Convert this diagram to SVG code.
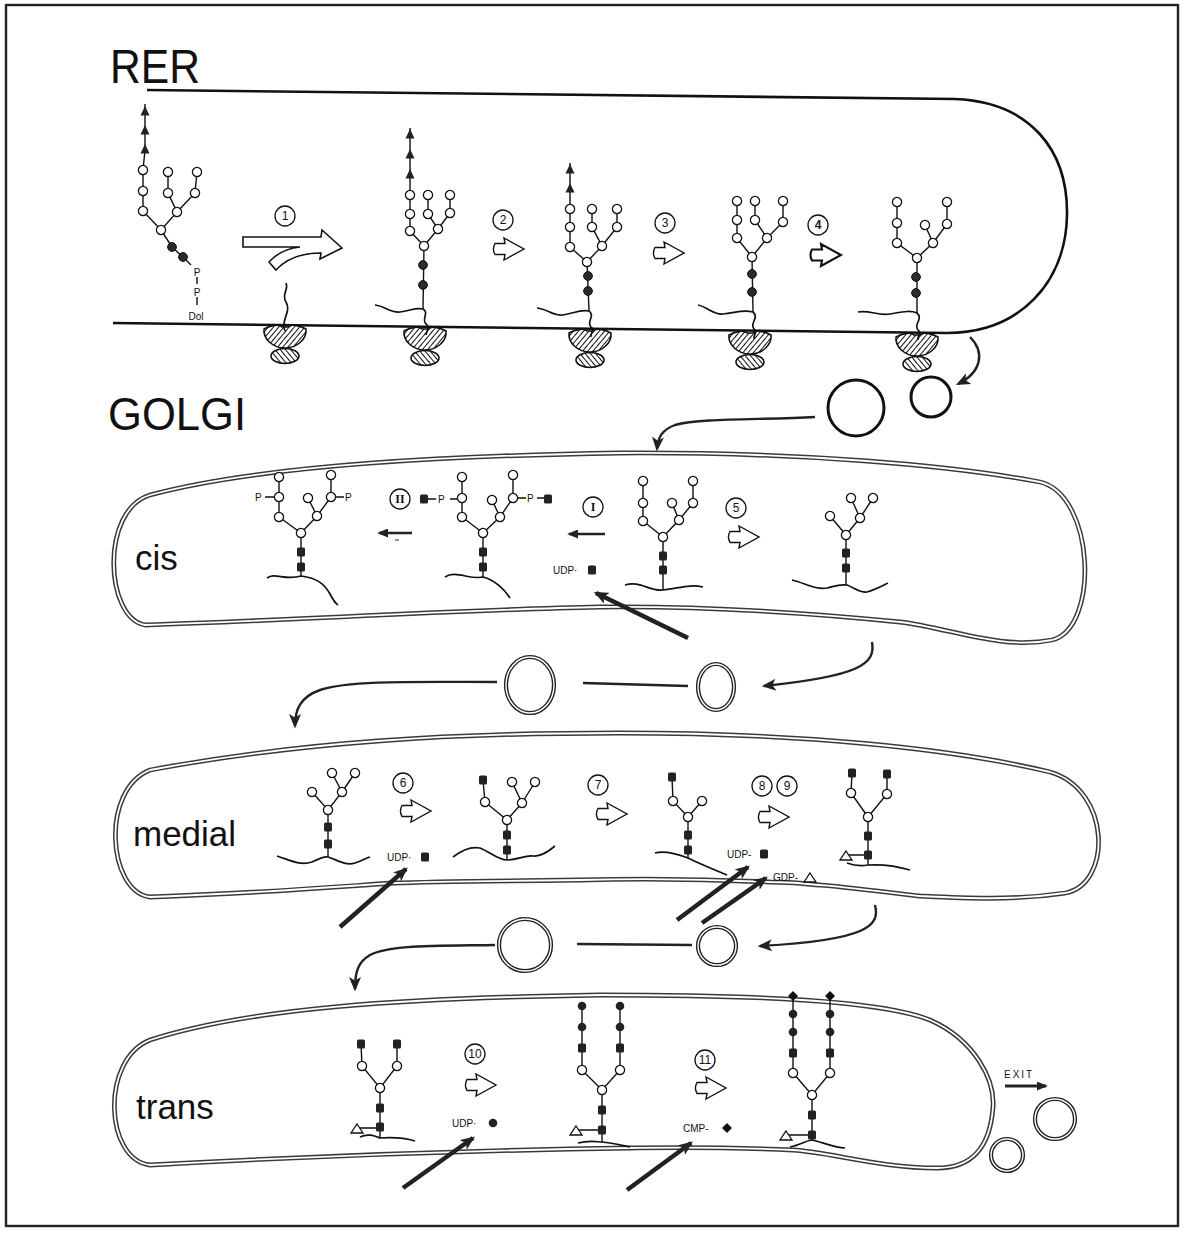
<svg xmlns="http://www.w3.org/2000/svg" xmlns:xlink="http://www.w3.org/1999/xlink" width="1185" height="1242" viewBox="0 0 1185 1242">
<style>
  .ln{stroke:#111;stroke-width:1.4;fill:none}
  .pep{stroke:#111;stroke-width:1.7;fill:none}
  .mem{stroke:#3a3a3a;stroke-width:4.8;fill:none}
  .memi{stroke:#fff;stroke-width:1.8;fill:none}
  .er{stroke:#111;stroke-width:2.6;fill:none}
  .tr{stroke:#222;stroke-width:2.4;fill:none}
  .imp{stroke:#222;stroke-width:4.5;fill:none}
  .stc{fill:#fff;stroke:#111;stroke-width:1.3}
  .num{font-family:"Liberation Sans",Arial,sans-serif;font-size:12px;text-anchor:middle;fill:#111}
  .rom{font-family:"Liberation Serif","Times New Roman",serif;font-size:12px;font-weight:bold;text-anchor:middle;fill:#111}
  .sm{font-family:"Liberation Sans",Arial,sans-serif;font-size:10px;fill:#111}
  .big{font-family:"Liberation Sans",Arial,sans-serif;fill:#111}
  .lab{font-family:"Liberation Sans",Arial,sans-serif;font-size:35px;fill:#111}
  .ves{fill:none;stroke:#222;stroke-width:4.2}
  .vesi{fill:none;stroke:#fff;stroke-width:1.4}
</style>
<defs>
  <pattern id="hatchA" patternUnits="userSpaceOnUse" width="4" height="4" patternTransform="rotate(40)">
    <rect width="4" height="4" fill="#fff"/>
    <line x1="0" y1="0" x2="0" y2="4" stroke="#111" stroke-width="2"/>
  </pattern>
  <pattern id="hatchB" patternUnits="userSpaceOnUse" width="4" height="4" patternTransform="rotate(-40)">
    <rect width="4" height="4" fill="#fff"/>
    <line x1="0" y1="0" x2="0" y2="4" stroke="#111" stroke-width="2"/>
  </pattern>
  <!-- sugar residues -->
  <circle id="o" r="4.6" fill="#fff" stroke="#111" stroke-width="1.3"/>
  <circle id="f" r="4.4" fill="#2a2a2a" stroke="#111" stroke-width="1"/>
  <rect id="s" x="-4" y="-4.5" width="8" height="9" rx="1.6" fill="#222"/>
  <circle id="g" r="4.3" fill="#222"/>
  <path id="t" d="M0,-6 L4.5,3.5 L-4.5,3.5 Z" fill="#222"/>
  <path id="fu" d="M0,-5 L6,4 L-6,4 Z" fill="#fff" stroke="#111" stroke-width="1.3"/>
  <path id="d" d="M0,-5 L5,0 L0,5 L-5,0 Z" fill="#111"/>
  <!-- hollow reaction arrows -->
  <path id="ha" d="M0,-5.5 L10,-5.5 L9,-11 L29,0 L9,11 L10,5.5 L0,5.5 C-2,2 -2,-2 0,-5.5 Z" fill="#fff" stroke="#111" stroke-width="1.4"/>
  <path id="hab" d="M0,-5.5 L10,-5.5 L9,-11 L29,0 L9,11 L10,5.5 L0,5.5 C-2,2 -2,-2 0,-5.5 Z" fill="#fff" stroke="#111" stroke-width="2.1"/>
  <!-- ribosome: small subunit below, large subunit against the membrane -->
  <g id="rib">
    <ellipse cx="0" cy="31" rx="14" ry="7.5" fill="url(#hatchB)" stroke="#111" stroke-width="1.6"/>
    <path d="M-21,4 C-22,14 -12,23 0,23 C12,23 22,14 21,4 C14,0 6,-1 3,2 L-3,2 C-6,-1 -14,0 -21,4 Z" fill="url(#hatchA)" stroke="#111" stroke-width="1.6"/>
  </g>
  <marker id="ah" viewBox="0 0 12 10" markerUnits="userSpaceOnUse" markerWidth="15" markerHeight="12" refX="10" refY="5" orient="auto">
    <path d="M0,0 L12,5 L0,10 L3,5 Z" fill="#222"/>
  </marker>
  <marker id="ahs" viewBox="0 0 12 10" markerUnits="userSpaceOnUse" markerWidth="12" markerHeight="9" refX="10" refY="5" orient="auto">
    <path d="M0,0 L12,5 L0,10 Z" fill="#222"/>
  </marker>
</defs>

<rect width="1185" height="1242" fill="#fff"/>
<!-- frame -->
<rect x="6" y="5" width="1172" height="1221" fill="none" stroke="#222" stroke-width="2.4"/>

<!-- ===== RER ===== -->
<g id="rer">
  <text class="big" x="110" y="83" font-size="48" textLength="90" lengthAdjust="spacingAndGlyphs">RER</text>
  <path class="er" d="M147,90 L955,99 C1030,102 1068,150 1067,215 C1066,282 1020,333 947,333 L113,323"/>
  <use href="#rib" x="285" y="325"/>
  <use href="#rib" x="425" y="327"/>
  <use href="#rib" x="590" y="329"/>
  <use href="#rib" x="750" y="331"/>
  <use href="#rib" x="917" y="333"/>
  <path class="pep" d="M285,331 C280,320 292,312 286,302 C281,294 289,290 286,283"/>
</g>

<!-- lipid-linked oligosaccharide -->
<g id="llo">
  <path class="ln" d="M145,104 L145,150 L143,170 L143,211 L161,230 M168,172 L168,193 L177,212 L161,230 M197,172 L195,193 L177,212 M161,230 L172,247 L183,257 L191,265 M197,277 L197,284 M197,297 L197,305"/>
  <use href="#t" x="145" y="112"/><use href="#t" x="145" y="131"/><use href="#t" x="145" y="150"/>
  <use href="#o" x="143" y="170"/><use href="#o" x="143" y="191"/><use href="#o" x="143" y="211"/>
  <use href="#o" x="168" y="172"/><use href="#o" x="168" y="193"/><use href="#o" x="177" y="212"/>
  <use href="#o" x="197" y="172"/><use href="#o" x="195" y="193"/>
  <use href="#o" x="161" y="230"/>
  <use href="#f" x="172" y="247"/><use href="#f" x="183" y="257"/>
  <text class="sm" x="197" y="276" text-anchor="middle">P</text>
  <text class="sm" x="197" y="296" text-anchor="middle">P</text>
  <text class="sm" x="196" y="320" text-anchor="middle">Dol</text>
</g>

<!-- step 1: oligosaccharide transfer -->
<g id="step1">
  <circle class="stc" cx="285" cy="216" r="10"/>
  <text class="num" x="285" y="220">1</text>
  <path d="M243,237 L321,237 L322,230 L342,248 L320,259 L321,253 C300,253 286,259 276,270 L269,262 C278,252 290,248 300,247 L243,247 Z" fill="#fff" stroke="#111" stroke-width="1.6"/>
</g>

<g id="rer-a">
  <path class="pep" d="M375,305 C385,306 390,313 400,312 C410,311 415,307 423,309 C430,313 420,320 427,325 C430,328 426,332 426,335"/>
  <path class="ln" d="M410,128 L410,231 L424,246 M428,195 L428,214 L438,229 L424,246 M450,195 L450,213 L438,229 M424,246 L423,309"/>
  <use href="#t" x="410" y="135"/><use href="#t" x="410" y="155"/><use href="#t" x="410" y="175"/>
  <use href="#o" x="410" y="195"/><use href="#o" x="410" y="214"/><use href="#o" x="410" y="231"/>
  <use href="#o" x="428" y="195"/><use href="#o" x="428" y="214"/><use href="#o" x="438" y="229"/>
  <use href="#o" x="450" y="195"/><use href="#o" x="450" y="213"/>
  <use href="#o" x="424" y="246"/>
  <use href="#f" x="423" y="265"/><use href="#f" x="423" y="285"/>
</g>

<g id="step2">
  <circle class="stc" cx="503" cy="220" r="10"/>
  <text class="num" x="503" y="224">2</text>
  <use href="#ha" x="495" y="249"/>
</g>

<g id="rer-b">
  <path class="pep" d="M537,308 C548,309 552,316 562,315 C572,314 580,309 589,311 C596,316 585,322 592,328 C594,331 590,334 591,337"/>
  <path class="ln" d="M570,163 L570,247 L587,262 M592,209 L592,227 L602,246 L587,262 M617,209 L617,227 L602,246 M587,262 L589,311"/>
  <use href="#t" x="570" y="170"/><use href="#t" x="570" y="189"/>
  <use href="#o" x="570" y="209"/><use href="#o" x="570" y="227"/><use href="#o" x="570" y="247"/>
  <use href="#o" x="592" y="209"/><use href="#o" x="592" y="227"/><use href="#o" x="602" y="246"/>
  <use href="#o" x="617" y="209"/><use href="#o" x="617" y="227"/>
  <use href="#o" x="587" y="262"/>
  <use href="#f" x="588" y="276"/><use href="#f" x="588" y="291"/>
</g>

<g id="step3">
  <circle class="stc" cx="665" cy="223" r="10"/>
  <text class="num" x="665" y="227">3</text>
  <use href="#ha" x="655" y="253"/>
</g>

<g id="rer-c">
  <path class="pep" d="M698,305 C708,307 713,315 723,314 C735,313 743,309 753,312 C760,318 748,324 755,330 C757,333 753,336 754,339"/>
  <path class="ln" d="M737,201 L737,238 L752,257 M755,201 L755,220 L767,238 L752,257 M783,201 L783,222 L767,238 M752,257 L753,312"/>
  <use href="#o" x="737" y="201"/><use href="#o" x="737" y="220"/><use href="#o" x="737" y="238"/>
  <use href="#o" x="755" y="201"/><use href="#o" x="755" y="220"/><use href="#o" x="767" y="238"/>
  <use href="#o" x="783" y="201"/><use href="#o" x="783" y="222"/>
  <use href="#o" x="752" y="257"/>
  <use href="#f" x="752" y="274"/><use href="#f" x="752" y="292"/>
</g>

<g id="step4">
  <circle class="stc" cx="818" cy="225" r="10" stroke-width="2"/>
  <text class="num" x="818" y="229" font-weight="bold">4</text>
  <use href="#hab" x="812" y="255"/>
</g>

<g id="rer-d">
  <path class="pep" d="M858,312 C870,310 878,316 890,314 C902,312 910,310 917,313 C924,319 912,325 919,331 C921,334 917,337 918,340"/>
  <path class="ln" d="M897,202 L897,243 L917,258 M925,225 L933,243 L917,258 M947,202 L947,224 L933,243 M917,258 L917,313"/>
  <use href="#o" x="897" y="202"/><use href="#o" x="897" y="223"/><use href="#o" x="897" y="243"/>
  <use href="#o" x="925" y="225"/><use href="#o" x="933" y="243"/>
  <use href="#o" x="947" y="202"/><use href="#o" x="947" y="224"/>
  <use href="#o" x="917" y="258"/>
  <use href="#f" x="916" y="277"/><use href="#f" x="916" y="293"/>
</g>

<!-- ===== GOLGI ===== -->
<g id="golgi-title">
  <text class="big" x="108" y="430" font-size="46" textLength="138" lengthAdjust="spacingAndGlyphs">GOLGI</text>
</g>

<g id="cis">
  <path class="mem" d="M145,625 C105,618 100,510 150,495 C250,468 420,456 620,453 C800,452 950,465 1040,482 C1095,495 1100,628 1052,640 C1000,650 950,628 900,622 C800,612 700,606 600,607 C450,610 300,620 145,625 Z"/>
  <path class="memi" d="M145,625 C105,618 100,510 150,495 C250,468 420,456 620,453 C800,452 950,465 1040,482 C1095,495 1100,628 1052,640 C1000,650 950,628 900,622 C800,612 700,606 600,607 C450,610 300,620 145,625 Z"/>
  <text class="lab" x="135" y="570">cis</text>
</g>

<g id="medial">
  <path class="mem" d="M150,897 C108,892 100,790 150,770 C300,742 450,733 620,733 C800,733 950,748 1050,772 C1112,790 1112,885 1065,893 C1010,901 960,898 920,896 C850,888 800,882 770,882 C680,878 620,879 580,880 C480,881 420,882 393,883 C320,888 260,893 150,897 Z"/>
  <path class="memi" d="M150,897 C108,892 100,790 150,770 C300,742 450,733 620,733 C800,733 950,748 1050,772 C1112,790 1112,885 1065,893 C1010,901 960,898 920,896 C850,888 800,882 770,882 C680,878 620,879 580,880 C480,881 420,882 393,883 C320,888 260,893 150,897 Z"/>
  <text class="lab" x="133" y="846">medial</text>
</g>

<g id="trans">
  <path class="mem" d="M150,1165 C105,1160 100,1060 150,1040 C250,1008 400,998 600,995 C750,995 880,1000 930,1020 C975,1040 995,1080 993,1107 C990,1150 970,1168 937,1168 C880,1168 830,1152 793,1150 C700,1146 640,1148 630,1148 C500,1150 330,1155 150,1165 Z"/>
  <path class="memi" d="M150,1165 C105,1160 100,1060 150,1040 C250,1008 400,998 600,995 C750,995 880,1000 930,1020 C975,1040 995,1080 993,1107 C990,1150 970,1168 937,1168 C880,1168 830,1152 793,1150 C700,1146 640,1148 630,1148 C500,1150 330,1155 150,1165 Z"/>
  <text class="lab" x="136" y="1119">trans</text>
</g>

<!-- cis glycans -->
<g id="cis-1">
  <path class="pep" d="M267,578 C275,572 285,581 301,576 C318,578 325,585 330,594 C333,600 335,603 338,605"/>
  <path class="ln" d="M265,497 L274,497 M279,477 L279,517 L301,533 M331,475 L331,497 L317,516 L301,533 M308,498 L317,516 M336,497 L344,497 M301,533 L301,577"/>
  <text class="sm" x="255" y="501">P</text>
  <text class="sm" x="345" y="501">P</text>
  <use href="#o" x="279" y="477"/><use href="#o" x="279" y="497"/><use href="#o" x="279" y="517"/>
  <use href="#o" x="331" y="475"/><use href="#o" x="331" y="497"/><use href="#o" x="308" y="498"/><use href="#o" x="317" y="516"/>
  <use href="#o" x="301" y="533"/>
  <use href="#s" x="301" y="552"/><use href="#s" x="301" y="567"/>
</g>

<g id="step-II">
  <circle class="stc" cx="400" cy="499" r="10"/>
  <text class="rom" x="400" y="503">II</text>
  <line x1="412" y1="533" x2="379" y2="533" stroke="#222" stroke-width="2.6" marker-end="url(#ahs)"/>
  <line x1="395" y1="540" x2="399" y2="540" stroke="#222" stroke-width="1"/>
</g>

<g id="cis-2">
  <path class="pep" d="M445,577 C455,570 470,580 483,577 C495,580 505,590 510,598"/>
  <path class="ln" d="M428,499 L436,499 M450,499 L457,499 M462,477 L462,517 L483,533 M513,475 L513,498 L500,517 L483,533 M492,500 L500,517 M518,498 L526,498 M537,498 L544,498 M483,533 L483,577"/>
  <use href="#s" x="424" y="499"/>
  <text class="sm" x="438" y="503">P</text>
  <text class="sm" x="527" y="502">P</text>
  <use href="#s" x="548" y="499"/>
  <use href="#o" x="462" y="477"/><use href="#o" x="462" y="498"/><use href="#o" x="462" y="517"/>
  <use href="#o" x="513" y="475"/><use href="#o" x="513" y="498"/><use href="#o" x="492" y="500"/><use href="#o" x="500" y="517"/>
  <use href="#o" x="483" y="533"/>
  <use href="#s" x="483" y="552"/><use href="#s" x="483" y="567"/>
</g>

<g id="step-I">
  <circle class="stc" cx="593" cy="507" r="10"/>
  <text class="rom" x="593" y="511">I</text>
  <line x1="605" y1="534" x2="569" y2="534" stroke="#222" stroke-width="2.6" marker-end="url(#ahs)"/>
  <text class="sm" x="553" y="574">UDP·</text>
  <use href="#s" x="592" y="570"/>
</g>

<g id="cis-3">
  <path class="pep" d="M625,585 C640,580 650,592 663,590 C680,588 690,584 703,587"/>
  <path class="ln" d="M643,481 L643,521 L663,537 M693,481 L693,503 L679,520 L663,537 M672,503 L679,520 M663,537 L663,590"/>
  <use href="#o" x="643" y="481"/><use href="#o" x="643" y="503"/><use href="#o" x="643" y="521"/>
  <use href="#o" x="693" y="481"/><use href="#o" x="693" y="503"/><use href="#o" x="672" y="503"/><use href="#o" x="679" y="520"/>
  <use href="#o" x="663" y="537"/>
  <use href="#s" x="663" y="556"/><use href="#s" x="663" y="570"/>
</g>

<g id="step5">
  <circle class="stc" cx="736" cy="508" r="10"/>
  <text class="num" x="736" y="512">5</text>
  <use href="#ha" x="730" y="537"/>
</g>

<g id="cis-4">
  <path class="pep" d="M792,580 C805,583 815,590 827,588 C835,586 840,584 847,585 C855,588 860,593 867,592 C875,590 882,586 888,583"/>
  <path class="ln" d="M830,516 L846,535 M851,498 L860,518 L873,498 M860,518 L846,535 L846,585"/>
  <use href="#o" x="830" y="516"/>
  <use href="#o" x="851" y="498"/><use href="#o" x="873" y="498"/><use href="#o" x="860" y="518"/>
  <use href="#o" x="846" y="535"/>
  <use href="#s" x="846" y="553"/><use href="#s" x="846" y="568"/>
</g>

<!-- medial glycans -->
<g id="medial-1">
  <path class="pep" d="M277,856 C290,860 300,866 312,862 C320,858 325,856 328,857 C338,860 345,866 355,863 C362,861 366,858 370,857"/>
  <path class="ln" d="M312,792 L328,810 L342,792 L332,773 M342,792 L355,773 M328,810 L328,857"/>
  <use href="#o" x="312" y="792"/><use href="#o" x="342" y="792"/><use href="#o" x="332" y="773"/><use href="#o" x="355" y="773"/>
  <use href="#o" x="328" y="810"/>
  <use href="#s" x="328" y="827"/><use href="#s" x="328" y="844"/>
</g>

<g id="step6">
  <circle class="stc" cx="403" cy="783" r="10"/>
  <text class="num" x="403" y="787">6</text>
  <use href="#ha" x="402" y="811"/>
  <text class="sm" x="387" y="861">UDP·</text>
  <use href="#s" x="425" y="857"/>
</g>

<g id="medial-2">
  <path class="pep" d="M453,857 C462,850 470,846 480,848 C490,852 498,860 507,860 C518,860 525,855 533,856 C542,857 550,850 555,846"/>
  <path class="ln" d="M483,780 L485,802 L507,820 L522,803 L512,782 M522,803 L535,782 M507,820 L507,860"/>
  <use href="#s" x="483" y="780"/>
  <use href="#o" x="485" y="802"/><use href="#o" x="522" y="803"/><use href="#o" x="512" y="782"/><use href="#o" x="535" y="782"/>
  <use href="#o" x="507" y="820"/>
  <use href="#s" x="507" y="835"/><use href="#s" x="507" y="850"/>
</g>

<g id="step7">
  <circle class="stc" cx="598" cy="785" r="10"/>
  <text class="num" x="598" y="789">7</text>
  <use href="#ha" x="598" y="814"/>
</g>

<g id="medial-3">
  <path class="pep" d="M655,853 C665,850 680,855 688,858 C700,864 715,870 727,875"/>
  <path class="ln" d="M672,777 L673,801 L688,817 L702,801 M688,817 L688,858"/>
  <use href="#s" x="672" y="777"/>
  <use href="#o" x="673" y="801"/><use href="#o" x="702" y="801"/>
  <use href="#o" x="688" y="817"/>
  <use href="#s" x="688" y="835"/><use href="#s" x="688" y="850"/>
</g>

<g id="step8-9">
  <circle class="stc" cx="762" cy="786" r="10"/>
  <text class="num" x="762" y="790">8</text>
  <circle class="stc" cx="787" cy="786" r="10"/>
  <text class="num" x="787" y="790">9</text>
  <use href="#ha" x="760" y="817"/>
  <text class="sm" x="727" y="858">UDP-</text>
  <use href="#s" x="764" y="854"/>
  <text class="sm" x="773" y="881">GDP-</text>
  <use href="#fu" x="810" y="878"/>
</g>

<g id="medial-4">
  <path class="pep" d="M847,863 C855,866 862,866 868,865 C885,864 900,867 910,870"/>
  <path class="ln" d="M852,773 L851,793 L868,817 L887,794 L887,774 M868,817 L868,865 M847,855 L868,855"/>
  <use href="#s" x="852" y="773"/><use href="#s" x="887" y="774"/>
  <use href="#o" x="851" y="793"/><use href="#o" x="887" y="794"/>
  <use href="#o" x="868" y="817"/>
  <use href="#s" x="868" y="836"/><use href="#s" x="868" y="855"/>
  <use href="#fu" x="846" y="856"/>
</g>

<!-- trans glycans -->
<g id="trans-1">
  <path class="pep" d="M360,1137 C368,1133 375,1136 380,1138 C395,1137 405,1138 415,1141"/>
  <path class="ln" d="M361,1044 L362,1066 L380,1088 L397,1066 L397,1044 M380,1088 L380,1138 M358,1128 L380,1128"/>
  <use href="#s" x="361" y="1044"/><use href="#s" x="397" y="1044"/>
  <use href="#o" x="362" y="1066"/><use href="#o" x="397" y="1066"/>
  <use href="#o" x="380" y="1088"/>
  <use href="#s" x="380" y="1108"/><use href="#s" x="380" y="1127"/>
  <use href="#fu" x="357" y="1129"/>
</g>

<g id="step10">
  <circle class="stc" cx="475" cy="1054" r="10"/>
  <text class="num" x="475" y="1058">10</text>
  <use href="#ha" x="467" y="1085"/>
  <text class="sm" x="452" y="1127">UDP·</text>
  <use href="#g" x="493" y="1123"/>
</g>

<g id="trans-2">
  <path class="pep" d="M578,1143 C590,1140 598,1142 602,1142 C612,1143 620,1145 630,1147"/>
  <path class="ln" d="M582,1005 L582,1070 L602,1090 L620,1070 L620,1005 M602,1090 L602,1142 M577,1130 L602,1130"/>
  <use href="#g" x="582" y="1006"/><use href="#g" x="620" y="1006"/>
  <use href="#g" x="582" y="1027"/><use href="#g" x="620" y="1027"/>
  <use href="#s" x="582" y="1048"/><use href="#s" x="620" y="1048"/>
  <use href="#o" x="582" y="1070"/><use href="#o" x="620" y="1070"/>
  <use href="#o" x="602" y="1090"/>
  <use href="#s" x="602" y="1110"/><use href="#s" x="602" y="1130"/>
  <use href="#fu" x="576" y="1131"/>
</g>

<g id="step11">
  <circle class="stc" cx="705" cy="1060" r="10"/>
  <text class="num" x="705" y="1064">11</text>
  <use href="#ha" x="697" y="1088"/>
  <text class="sm" x="683" y="1132">CMP-</text>
  <use href="#d" x="727" y="1128"/>
</g>

<g id="trans-3">
  <path class="pep" d="M790,1147 C800,1145 808,1140 812,1140 C822,1142 835,1148 845,1148"/>
  <path class="ln" d="M793,996 L793,1073 L812,1095 L830,1073 L830,996 M812,1095 L812,1140 M787,1135 L812,1135"/>
  <use href="#d" x="793" y="996"/><use href="#d" x="830" y="996"/>
  <use href="#g" x="793" y="1014"/><use href="#g" x="830" y="1014"/>
  <use href="#g" x="793" y="1032"/><use href="#g" x="830" y="1032"/>
  <use href="#s" x="793" y="1053"/><use href="#s" x="830" y="1053"/>
  <use href="#o" x="793" y="1073"/><use href="#o" x="830" y="1073"/>
  <use href="#o" x="812" y="1095"/>
  <use href="#s" x="812" y="1115"/><use href="#s" x="812" y="1135"/>
  <use href="#fu" x="786" y="1136"/>
</g>

<g id="exit">
  <text class="sm" x="1004" y="1078" font-size="14" letter-spacing="2">EXIT</text>
  <line x1="1005" y1="1086" x2="1046" y2="1086" stroke="#222" stroke-width="3.2" marker-end="url(#ahs)"/>
</g>

<!-- transport vesicles -->
<g id="vesicles">
  <circle cx="856" cy="408" r="28" fill="none" stroke="#111" stroke-width="3"/>
  <circle cx="931" cy="397" r="20" fill="none" stroke="#111" stroke-width="3"/>
  <ellipse class="ves" cx="530" cy="685" rx="24" ry="28"/><ellipse class="vesi" cx="530" cy="685" rx="24" ry="28"/>
  <ellipse class="ves" cx="716" cy="687" rx="18" ry="23"/><ellipse class="vesi" cx="716" cy="687" rx="18" ry="23"/>
  <circle class="ves" cx="525" cy="945" r="26"/><circle class="vesi" cx="525" cy="945" r="26"/>
  <circle class="ves" cx="717" cy="946" r="19"/><circle class="vesi" cx="717" cy="946" r="19"/>
  <circle class="ves" cx="1055" cy="1119" r="20"/><circle class="vesi" cx="1055" cy="1119" r="20"/>
  <circle class="ves" cx="1007" cy="1155" r="16"/><circle class="vesi" cx="1007" cy="1155" r="16"/>
</g>

<!-- connectors: vesicle traffic and nucleotide-sugar import -->
<g id="connectors">
  <path class="tr" d="M970,337 C985,352 982,372 958,384" marker-end="url(#ah)"/>
  <path class="tr" d="M815,417 C760,420 700,418 675,425 C662,430 658,437 657,449" marker-end="url(#ah)"/>
  <path class="tr" d="M872,642 C876,664 860,676 764,686" marker-end="url(#ah)"/>
  <line class="tr" x1="583" y1="683" x2="688" y2="686"/>
  <path class="tr" d="M497,682 C420,682 350,680 320,690 C300,697 295,710 295,726" marker-end="url(#ah)"/>
  <path class="tr" d="M875,905 C880,925 870,940 760,946" marker-end="url(#ah)"/>
  <line class="tr" x1="577" y1="944" x2="692" y2="945"/>
  <path class="tr" d="M495,945 C430,946 390,945 370,955 C358,962 355,972 355,989" marker-end="url(#ah)"/>
  <line class="imp" x1="688" y1="638" x2="596" y2="593" marker-end="url(#ah)"/>
  <line class="imp" x1="340" y1="927" x2="406" y2="869" marker-end="url(#ah)"/>
  <line class="imp" x1="677" y1="920" x2="748" y2="867" marker-end="url(#ah)"/>
  <line class="imp" x1="702" y1="923" x2="766" y2="878" marker-end="url(#ah)"/>
  <line class="imp" x1="403" y1="1188" x2="473" y2="1138" marker-end="url(#ah)"/>
  <line class="imp" x1="627" y1="1190" x2="691" y2="1143" marker-end="url(#ah)"/>
</g>
</svg>
